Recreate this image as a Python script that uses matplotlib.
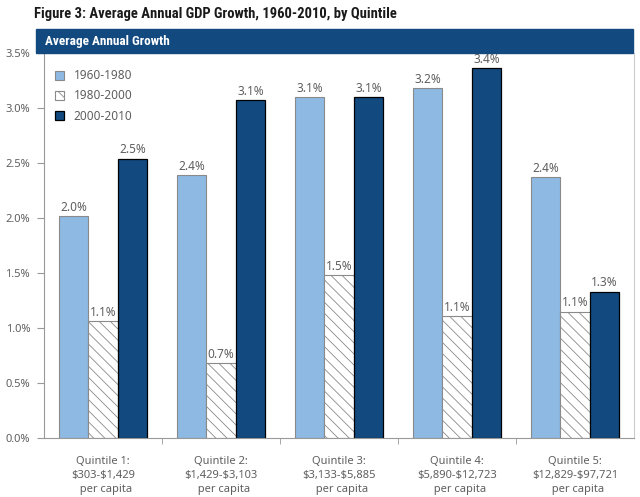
import numpy as np
import matplotlib
matplotlib.use('Agg')
import matplotlib.pyplot as plt
from matplotlib.patches import Rectangle

quintiles = ['Quintile 1:\n\\$303-\\$1,429\n  per capita',
             'Quintile 2:\n\\$1,429-\\$3,103\n  per capita',
             'Quintile 3:\n\\$3,133-\\$5,885\n  per capita',
             'Quintile 4:\n\\$5,890-\\$12,723\n  per capita',
             'Quintile 5:\n\\$12,829-\\$97,721\n  per capita']
g1960 = [2.02, 2.39, 3.10, 3.18, 2.37]
g1980 = [1.06, 0.68, 1.48, 1.11, 1.15]
g2000 = [2.54, 3.07, 3.10, 3.36, 1.33]
labels1960 = ['2.0%', '2.4%', '3.1%', '3.2%', '2.4%']
labels1980 = ['1.1%', '0.7%', '1.5%', '1.1%', '1.1%']
labels2000 = ['2.5%', '3.1%', '3.1%', '3.4%', '1.3%']
periods = ['1960-1980', '1980-2000', '2000-2010']

light = '#8db9e3'
dark = '#124a80'
grey = '#5f5f5f'

plt.rcParams['hatch.linewidth'] = 0.6
plt.rcParams['hatch.color'] = '#bbbbbb'
plt.rcParams['font.family'] = ['Noto Sans', 'DejaVu Sans']
narrow = ['Roboto Condensed', 'Open Sans Condensed', 'Liberation Sans Narrow', 'Roboto', 'DejaVu Sans']

fig = plt.figure(figsize=(6.4, 4.97), dpi=100)
ax = fig.add_axes([44/640, 1-438/497, 590/640, 385/497])

x = np.arange(5)
w = 0.25
b1 = ax.bar(x - w, g1960, w, color=light, edgecolor='#8a8a8a', linewidth=0.8, label=periods[0])
b2 = ax.bar(x, g1980, w, color='white', edgecolor='#8a8a8a', hatch='\\\\\\', linewidth=0.8, label=periods[1])
b3 = ax.bar(x + w, g2000, w, color=dark, edgecolor='black', linewidth=0.9, label=periods[2])

for bars, labs in [(b1, labels1960), (b2, labels1980), (b3, labels2000)]:
    for p, t in zip(bars, labs):
        ax.text(p.get_x() + p.get_width()/2, p.get_height() + 0.02, t,
                ha='center', va='bottom', fontsize=8.5, color=grey)

ax.set_xlim(-0.5, 4.5)
ax.set_ylim(0, 3.5)
ax.set_yticks(np.arange(0, 3.51, 0.5))
ax.set_yticklabels(['%.1f%%' % v for v in np.arange(0, 3.51, 0.5)])
ax.set_xticks(x)
ax.set_xticklabels(quintiles, fontsize=8, color=grey, linespacing=1.4)
ax.set_xticks(np.arange(0.5, 4.0, 1.0), minor=True)
ax.tick_params(axis='x', which='major', length=0, pad=13)
ax.tick_params(axis='x', which='minor', length=4, color='#999999')
ax.tick_params(axis='y', labelsize=8, labelcolor=grey, length=5, color='#999999', pad=5)

ax.spines['top'].set_visible(False)
for s in ['left', 'bottom']:
    ax.spines[s].set_color('#999999')
ax.spines['right'].set_color('#cccccc')

ax.legend(loc='upper left', bbox_to_anchor=(0.0, 0.985), frameon=False, fontsize=8.5,
          handlelength=0.8, handleheight=0.8, labelspacing=0.6, labelcolor=grey)

# header band
fig.patches.append(Rectangle((36/640, 1-53/497), 597/640, 24/497,
                             transform=fig.transFigure, color=dark, zorder=0))
fig.text(45/640, 1-41/497, 'Average Annual Growth', color='white', fontsize=9.5,
         fontweight='bold', va='center', ha='left', family=narrow)
fig.text(34/640, 1-14/497, 'Figure 3: Average Annual GDP Growth, 1960-2010, by Quintile',
         color='#1a1a1a', fontsize=10.5, fontweight='bold', va='center', ha='left',
         family=narrow)

fig.savefig('out.png', dpi=100)
